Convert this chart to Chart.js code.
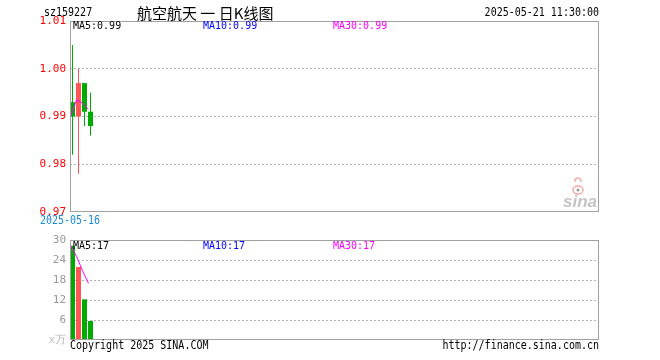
<!DOCTYPE html>
<html><head><meta charset="utf-8">
<script src="https://cdn.jsdelivr.net/npm/chart.js@4/dist/chart.umd.min.js"></script>
<style>
html,body{margin:0;padding:0;background:#fff;width:660px;height:360px;overflow:hidden}
#wrap{position:relative;width:660px;height:360px}
canvas{position:absolute;left:0;top:0}
</style></head><body>
<div id="wrap"><canvas id="price" width="660" height="360"></canvas><canvas id="vol" width="660" height="360"></canvas></div>
<script>
// ---- data ----
const symbol = 'sz159227';
const chartTitle = '航空航天 一 日K线图';
const timestamp = '2025-05-21 11:30:00';
const dates = ['2025-05-16', '2025-05-19', '2025-05-20', '2025-05-21'];
const openP  = [0.993, 0.990, 0.997, 0.991];
const highP  = [1.005, 1.000, 0.997, 0.995];
const lowP   = [0.982, 0.978, 0.988, 0.986];
const closeP = [0.990, 0.997, 0.991, 0.988];
const priceMA5 = [0.990, 0.9935, 0.9928, 0.9915];
const volume = [28.3, 21.9, 12.2, 5.7];
const volumeMA5 = [28.3, 25.1, 20.8, 17.0];
const priceTicks = [0.97, 0.98, 0.99, 1.00, 1.01];
const volumeTicks = [0, 6, 12, 18, 24, 30];
const priceMALabels = ['MA5:0.99', 'MA10:0.99', 'MA30:0.99'];
const volumeMALabels = ['MA5:17', 'MA10:17', 'MA30:17'];
const volumeUnit = 'x万';
const copyright = 'Copyright 2025 SINA.COM';
const siteUrl = 'http://finance.sina.com.cn';

// ---- style ----
const UP = '#ff5555', DOWN = '#00aa00', MA_COLOR = '#ff00ff';
const MA_LABEL_COLORS = ['#000000', '#0000ff', '#ff00ff'];
const MONO = '"DejaVu Sans Mono", monospace';
const SLOTS = 88.1667, XMIN = -0.4167;
const LINE_SHIFT = -0.33;

const isUp = i => closeP[i] >= openP[i];
const candleColor = i => isUp(i) ? UP : DOWN;

function makeX() {
  return {
    type: 'linear', display: false, offset: false, min: XMIN, max: XMIN + SLOTS,
    afterBuildTicks: s => { s.ticks = dates.map((d, i) => ({ value: i })); }
  };
}

function drawBox(chart) {
  const a = chart.chartArea, c = chart.ctx;
  c.save();
  c.strokeStyle = '#a0a0a0'; c.lineWidth = 1;
  c.strokeRect(a.left + 0.5, a.top + 0.5, a.right - a.left - 1, a.bottom - a.top - 1);
  c.restore();
}
function drawMALabels(chart, labels, y) {
  const a = chart.chartArea, c = chart.ctx;
  c.save();
  c.font = '10px ' + MONO; c.textBaseline = 'middle'; c.textAlign = 'left';
  labels.forEach((t, i) => { c.fillStyle = MA_LABEL_COLORS[i]; c.fillText(t, a.left + 3 + i * 130, y); });
  c.restore();
}
function tallText(c, text, x, y, sy) {
  c.save(); c.translate(x, y); c.scale(1, sy); c.fillText(text, 0, 0); c.restore();
}

const priceDecor = {
  id: 'priceDecor',
  afterDraw(chart) {
    const a = chart.chartArea, c = chart.ctx;
    drawBox(chart);
    drawMALabels(chart, priceMALabels, a.top + 5.5);
    c.save();
    c.textBaseline = 'middle';
    c.fillStyle = '#000';
    c.font = '10px ' + MONO; c.textAlign = 'left';
    tallText(c, symbol, 44, 13, 1.2);
    c.textAlign = 'right';
    tallText(c, timestamp, a.right, 13, 1.2);
    c.textAlign = 'left';
    c.font = '15px "Noto Sans CJK SC"';
    c.fillText(chartTitle, 137, 13);
    // first date under the price panel
    c.font = '10px ' + MONO; c.textAlign = 'center'; c.fillStyle = '#1a8ad4';
    tallText(c, dates[0], a.left, a.bottom + 9, 1.15);
    // sina watermark
    c.font = 'bold italic 17px "Liberation Sans"'; c.textAlign = 'right'; c.textBaseline = 'alphabetic';
    c.fillStyle = '#c4c4c4';
    c.fillText('sina', a.right - 2, a.bottom - 5);
    c.strokeStyle = '#f4a8a8'; c.lineWidth = 1.5;
    c.beginPath(); c.ellipse(a.right - 21, a.bottom - 22, 5, 4, 0, 0, Math.PI * 2); c.stroke();
    c.beginPath(); c.arc(a.right - 21, a.bottom - 31, 3, Math.PI * 0.9, Math.PI * 2.1); c.stroke();
    c.fillStyle = '#999'; c.beginPath(); c.arc(a.right - 21, a.bottom - 22, 1.5, 0, Math.PI * 2); c.fill();
    c.restore();
  }
};

const volDecor = {
  id: 'volDecor',
  afterDraw(chart) {
    const a = chart.chartArea, c = chart.ctx;
    drawBox(chart);
    drawMALabels(chart, volumeMALabels, a.top + 6);
    c.save();
    c.font = '10px ' + MONO; c.textBaseline = 'middle'; c.fillStyle = '#000';
    c.textAlign = 'left'; tallText(c, copyright, a.left, a.bottom + 6, 1.15);
    c.textAlign = 'right'; tallText(c, siteUrl, a.right, a.bottom + 6, 1.15);
    c.restore();
  }
};

function yAxis(ticks, fmt, colorFn, width) {
  return {
    min: ticks[0], max: ticks[ticks.length - 1], stacked: false,
    afterBuildTicks: s => { s.ticks = ticks.map(v => ({ value: v })); },
    afterFit: s => { s.width = width; },
    ticks: { callback: fmt, color: colorFn, padding: 4, font: { family: MONO, size: 11 } },
    grid: {
      drawTicks: false, lineWidth: 1,
      color: ctx => (ctx.tick && (ctx.tick.value === ticks[0] || ctx.tick.value === ticks[ticks.length - 1])) ? 'rgba(0,0,0,0)' : '#b4b4b4'
    },
    border: { display: false, dash: [2, 2] }
  };
}

Chart.defaults.animation = false;

new Chart(document.getElementById('price'), {
  type: 'bar',
  data: {
    datasets: [
      {
        type: 'line', data: priceMA5.map((v, i) => ({ x: i + LINE_SHIFT, y: v })),
        borderColor: MA_COLOR, borderWidth: 1, pointRadius: 0, fill: false, order: 0
      },
      {
        data: dates.map((d, i) => ({ x: i, y: [lowP[i], highP[i]] })),
        backgroundColor: dates.map((d, i) => candleColor(i)),
        grouped: false, categoryPercentage: 1, barPercentage: 1 / 6, borderWidth: 0, order: 2
      },
      {
        data: dates.map((d, i) => ({ x: i, y: [openP[i], closeP[i]] })),
        backgroundColor: dates.map((d, i) => candleColor(i)),
        grouped: false, categoryPercentage: 1, barPercentage: 5 / 6, borderWidth: 0, order: 1
      }
    ]
  },
  options: {
    responsive: false, devicePixelRatio: 1, animation: false,
    layout: { padding: { left: 0, right: 61, top: 21, bottom: 148 } },
    plugins: { legend: { display: false }, tooltip: { enabled: false } },
    scales: {
      x: makeX(),
      y: yAxis(priceTicks, v => Number(v).toFixed(2), '#ff0000', 70)
    }
  },
  plugins: [priceDecor]
});

new Chart(document.getElementById('vol'), {
  type: 'bar',
  data: {
    datasets: [
      {
        type: 'line', data: volumeMA5.map((v, i) => ({ x: i + LINE_SHIFT, y: v })),
        borderColor: MA_COLOR, borderWidth: 1, pointRadius: 0, fill: false, order: 0
      },
      {
        data: dates.map((d, i) => ({ x: i, y: volume[i] })),
        backgroundColor: dates.map((d, i) => candleColor(i)),
        grouped: false, categoryPercentage: 1, barPercentage: 5 / 6, borderWidth: 0, order: 1
      }
    ]
  },
  options: {
    responsive: false, devicePixelRatio: 1, animation: false,
    layout: { padding: { left: 0, right: 61, top: 240, bottom: 20 } },
    plugins: { legend: { display: false }, tooltip: { enabled: false } },
    scales: {
      x: makeX(),
      y: yAxis(volumeTicks, v => v === 0 ? volumeUnit : String(v),
        ctx => (ctx.tick && ctx.tick.value === 0) ? '#bbbbbb' : '#999999', 70)
    }
  },
  plugins: [volDecor]
});
</script>
</body></html>
